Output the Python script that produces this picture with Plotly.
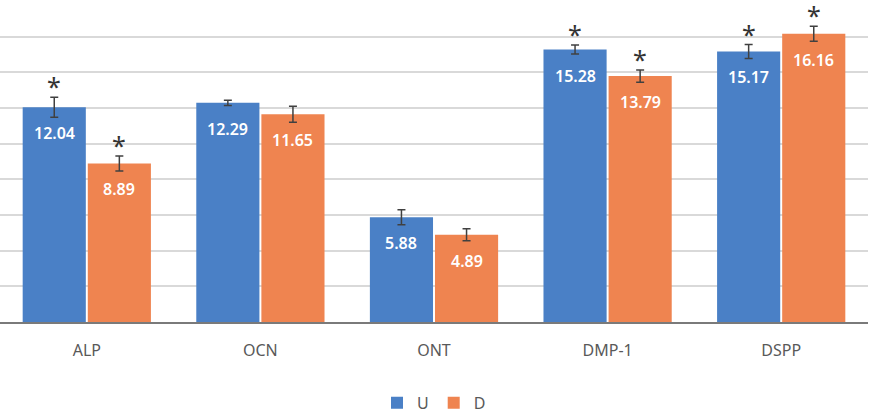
import plotly.graph_objects as go

categories = ["ALP", "OCN", "ONT", "DMP-1", "DSPP"]
u_values = [12.04, 12.29, 5.88, 15.28, 15.17]
d_values = [8.89, 11.65, 4.89, 13.79, 16.16]
u_err = [0.56, 0.15, 0.42, 0.25, 0.39]
d_err = [0.42, 0.45, 0.34, 0.34, 0.42]
u_sig = [True, False, False, True, True]
d_sig = [True, False, False, True, True]

BLUE = "#4A80C6"
ORANGE = "#EF8450"
FONT = "Noto Sans"

fig = go.Figure()
fig.add_trace(go.Bar(
    name="U", x=categories, y=u_values, marker_color=BLUE, marker_line_width=0,
    error_y=dict(type="data", array=u_err, color="#404040", thickness=1.5, width=4),
))
fig.add_trace(go.Bar(
    name="D", x=categories, y=d_values, marker_color=ORANGE, marker_line_width=0,
    error_y=dict(type="data", array=d_err, color="#404040", thickness=1.5, width=4),
))

off = 0.1875
annotations = []
for i, cat in enumerate(categories):
    for vals, errs, sig, sgn in ((u_values, u_err, u_sig, -1), (d_values, d_err, d_sig, 1)):
        xpos = i + sgn * off
        annotations.append(dict(
            x=xpos, y=vals[i], xref="x", yref="y", text=f"{vals[i]:.2f}",
            showarrow=False, yanchor="middle", yshift=-26,
            font=dict(family=FONT, size=16, color="white", weight=600),
        ))
        if sig[i]:
            annotations.append(dict(
                x=xpos, y=vals[i] + errs[i], xref="x", yref="y", text="*",
                showarrow=False, yanchor="bottom", yshift=-8,
                font=dict(family=FONT, size=25, color="#333333"),
            ))

fig.update_layout(
    width=873, height=414,
    margin=dict(l=0, r=5, t=1, b=92, autoexpand=False),
    paper_bgcolor="white", plot_bgcolor="white",
    barmode="group", bargap=0.25, bargroupgap=0.03,
    font=dict(family=FONT, color="#595959"),
    showlegend=True,
    legend=dict(orientation="h", x=0.5, xanchor="center",
                yref="container", y=0.027, yanchor="middle",
                font=dict(size=16, color="#595959"), itemwidth=30,
                traceorder="normal"),
    annotations=annotations,
    xaxis=dict(showline=True, linecolor="#7a7a7a", linewidth=2, ticks="",
               tickfont=dict(size=16, color="#595959"), ticklabelstandoff=13,
               showgrid=False, automargin=False),
    yaxis=dict(range=[0, 18], dtick=2, showticklabels=False, showgrid=True,
               gridcolor="#d9d9d9", gridwidth=1.5, zeroline=False, showline=False,
               automargin=False),
)

fig.write_html("out.html")
